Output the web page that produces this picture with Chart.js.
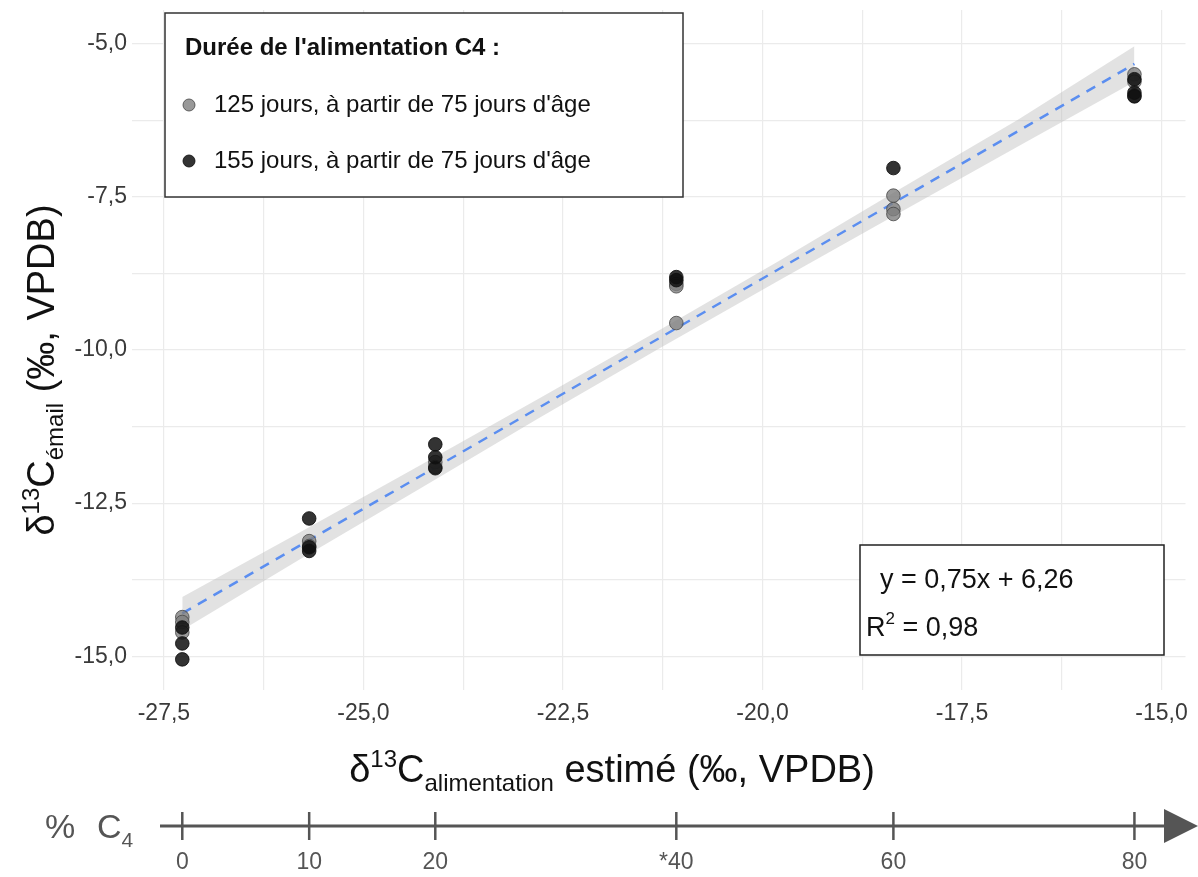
<!DOCTYPE html>
<html>
<head>
<meta charset="utf-8">
<script src="https://cdn.jsdelivr.net/npm/chart.js@4.4.1/dist/chart.umd.min.js"></script>
<style>
  body { margin: 0; background: #fff; }
  canvas { display: block; }
</style>
</head>
<body>
<canvas id="chart" width="1198" height="877"></canvas>
<script>
// values
const group125X = [-27.27, -27.27, -27.27, -25.68, -25.68, -24.1, -24.1, -21.08, -21.08, -21.08, -18.36, -18.36, -18.36, -15.34, -15.34, -15.34];
const group125Y = [-14.36, -14.44, -14.61, -13.12, -13.2, -11.83, -11.91, -8.92, -8.96, -9.56, -7.48, -7.7, -7.78, -5.5, -5.62, -5.85];
const group155X = [-27.27, -27.27, -27.27, -25.68, -25.68, -25.68, -24.1, -24.1, -24.1, -21.08, -21.08, -18.36, -15.34, -15.34, -15.34];
const group155Y = [-14.53, -14.79, -15.05, -12.75, -13.22, -13.28, -11.54, -11.75, -11.93, -8.81, -8.86, -7.03, -5.58, -5.8, -5.86];

const fitX = [-27.27, -15.34];
const fitY = [-14.30, -5.33];
const bandX = [-27.27, -25.8, -24.3, -22.8, -21.3, -19.8, -18.3, -16.8, -15.34];
const bandHi = [-14.03, -12.98, -11.89, -10.79, -9.68, -8.55, -7.39, -6.24, -5.04];
const bandLo = [-14.57, -13.42, -12.27, -11.11, -9.98, -8.87, -7.77, -6.68, -5.62];

const xTicks = [-27.5, -26.25, -25, -23.75, -22.5, -21.25, -20, -18.75, -17.5, -16.25, -15];
const yTicks = [-15, -13.75, -12.5, -11.25, -10, -8.75, -7.5, -6.25, -5];

// % C4 scale under the plot, placed at the feed values
const feedX = [-27.27, -25.68, -24.1, -21.08, -18.36, -15.34];
const pctLabels = ['0', '10', '20', '*40', '60', '80'];

const legendTitle = "Durée de l'alimentation C4 :";
const legendLabels = ["125 jours, à partir de 75 jours d'âge", "155 jours, à partir de 75 jours d'âge"];

const FONT = "'Liberation Sans', Arial, sans-serif";
const GRAY_FILL = 'rgba(128,128,128,0.8)';
const GRAY_LINE = 'rgba(70,70,70,0.8)';
const DARK_FILL = 'rgba(15,15,15,0.85)';

function pts(xs, ys) {
    return xs.map((x, i) => ({ x: x, y: ys[i] }));
}

function fmt(v) {
    const k = v / 2.5;
    if (Math.abs(k - Math.round(k)) > 1e-6) return '';
    return v.toFixed(1).replace('.', ',');
}

function drawRich(c, parts, x, y) {
    let w = 0;
    parts.forEach(p => {
        c.font = (p.bold ? 'bold ' : '') + p.size + 'px ' + FONT;
        p.w = c.measureText(p.t).width;
        w += p.w;
    });
    let cx = x - w / 2;
    c.textAlign = 'left';
    c.textBaseline = 'alphabetic';
    parts.forEach(p => {
        c.font = (p.bold ? 'bold ' : '') + p.size + 'px ' + FONT;
        c.fillText(p.t, cx, y + (p.dy || 0));
        cx += p.w;
    });
}

const overlay = {
    id: 'overlay',
    afterDraw(chart) {
        const c = chart.ctx;
        const xs = chart.scales.x;
        c.save();

        // axis titles
        c.fillStyle = '#111';
        drawRich(c, [
            { t: 'δ', size: 38 },
            { t: '13', size: 24, dy: -15 },
            { t: 'C', size: 38 },
            { t: 'alimentation', size: 24, dy: 9 },
            { t: ' estimé (‰, VPDB)', size: 38 }
        ], 612, 782);

        c.save();
        c.translate(40, 370);
        c.rotate(-Math.PI / 2);
        drawRich(c, [
            { t: 'δ', size: 38 },
            { t: '13', size: 24, dy: -15 },
            { t: 'C', size: 38 },
            { t: 'émail', size: 24, dy: 9 },
            { t: ' (‰, VPDB)', size: 38 }
        ], 0, 14);
        c.restore();

        // legend box
        c.fillStyle = '#fff';
        c.strokeStyle = '#333';
        c.lineWidth = 1.5;
        c.fillRect(165, 13, 518, 184);
        c.strokeRect(165, 13, 518, 184);
        c.fillStyle = '#111';
        c.textAlign = 'left';
        c.textBaseline = 'middle';
        c.font = 'bold 24px ' + FONT;
        c.fillText(legendTitle, 185, 48);
        const cols = [[GRAY_FILL, GRAY_LINE], [DARK_FILL, DARK_FILL]];
        legendLabels.forEach((lab, i) => {
            const yy = 105 + i * 56;
            c.beginPath();
            c.arc(189, yy, 6, 0, Math.PI * 2);
            c.fillStyle = cols[i][0];
            c.fill();
            c.strokeStyle = cols[i][1];
            c.lineWidth = 1;
            c.stroke();
            c.fillStyle = '#111';
            c.font = '24px ' + FONT;
            c.fillText(lab, 214, yy);
        });

        // equation box
        c.fillStyle = '#fff';
        c.strokeStyle = '#222';
        c.lineWidth = 1.5;
        c.fillRect(860, 545, 304, 110);
        c.strokeRect(860, 545, 304, 110);
        c.fillStyle = '#111';
        c.textBaseline = 'alphabetic';
        c.textAlign = 'left';
        c.font = '27px ' + FONT;
        c.fillText('y = 0,75x + 6,26', 880, 588);
        c.fillText('R', 866, 636);
        let rx = 866 + c.measureText('R').width;
        c.font = '17px ' + FONT;
        c.fillText('2', rx, 624);
        rx += c.measureText('2').width;
        c.font = '27px ' + FONT;
        c.fillText(' = 0,98', rx, 636);

        // % C4 axis
        const ay = 826;
        c.strokeStyle = '#555';
        c.fillStyle = '#555';
        c.lineWidth = 3;
        c.beginPath();
        c.moveTo(160, ay);
        c.lineTo(1172, ay);
        c.stroke();
        c.beginPath();
        c.moveTo(1164, ay - 17);
        c.lineTo(1198, ay);
        c.lineTo(1164, ay + 17);
        c.closePath();
        c.fill();
        c.lineWidth = 2.5;
        c.textAlign = 'center';
        c.textBaseline = 'middle';
        c.font = '23px ' + FONT;
        feedX.forEach((v, i) => {
            const px = xs.getPixelForValue(v);
            c.beginPath();
            c.moveTo(px, ay - 14);
            c.lineTo(px, ay + 14);
            c.stroke();
            c.fillText(pctLabels[i], px, 863);
        });
        c.textAlign = 'left';
        c.textBaseline = 'alphabetic';
        c.font = '34px ' + FONT;
        c.fillText('%', 45, 838);
        c.fillText('C', 97, 838);
        const cw = c.measureText('C').width;
        c.font = '21px ' + FONT;
        c.fillText('4', 97 + cw, 847);

        c.restore();
    }
};

new Chart(document.getElementById('chart'), {
    type: 'scatter',
    data: {
        datasets: [
            {
                data: pts(group155X, group155Y),
                backgroundColor: DARK_FILL,
                borderColor: DARK_FILL,
                borderWidth: 1,
                pointRadius: 6.8
            },
            {
                data: pts(group125X, group125Y),
                backgroundColor: GRAY_FILL,
                borderColor: GRAY_LINE,
                borderWidth: 1,
                pointRadius: 6.8
            },
            {
                data: pts(fitX, fitY),
                showLine: true,
                borderColor: '#5b8ef0',
                borderWidth: 2.5,
                borderDash: [10, 8],
                pointRadius: 0
            },
            {
                data: pts(bandX, bandHi),
                showLine: true,
                borderColor: 'rgba(0,0,0,0)',
                borderWidth: 0,
                pointRadius: 0,
                fill: '+1',
                backgroundColor: 'rgba(185,185,185,0.42)'
            },
            {
                data: pts(bandX, bandLo),
                showLine: true,
                borderColor: 'rgba(0,0,0,0)',
                borderWidth: 0,
                pointRadius: 0,
                fill: false
            }
        ]
    },
    options: {
        responsive: false,
        animation: false,
        events: [],
        layout: { padding: { top: 10, right: 10, left: 0, bottom: 0 } },
        plugins: {
            legend: { display: false },
            tooltip: { enabled: false }
        },
        scales: {
            x: {
                type: 'linear',
                min: -27.9,
                max: -14.7,
                afterBuildTicks: s => { s.ticks = xTicks.map(v => ({ value: v })); },
                afterFit: s => { s.height = 187; },
                border: { display: false },
                grid: { color: '#ebebeb', lineWidth: 1.2, drawTicks: false },
                ticks: {
                    padding: 10,
                    color: '#3a3a3a',
                    font: { family: FONT, size: 23 },
                    maxRotation: 0,
                    autoSkip: false,
                    callback: v => fmt(v)
                }
            },
            y: {
                type: 'linear',
                min: -15.55,
                max: -4.45,
                afterBuildTicks: s => { s.ticks = yTicks.map(v => ({ value: v })); },
                afterFit: s => {
                    s.width = 132;
                    s.paddingTop = 0;
                    s.paddingBottom = 0;
                },
                border: { display: false },
                grid: { color: '#ebebeb', lineWidth: 1.2, drawTicks: false },
                ticks: {
                    padding: 5,
                    color: '#3a3a3a',
                    font: { family: FONT, size: 23 },
                    autoSkip: false,
                    callback: v => fmt(v)
                }
            }
        }
    },
    plugins: [overlay]
});
</script>
</body>
</html>
